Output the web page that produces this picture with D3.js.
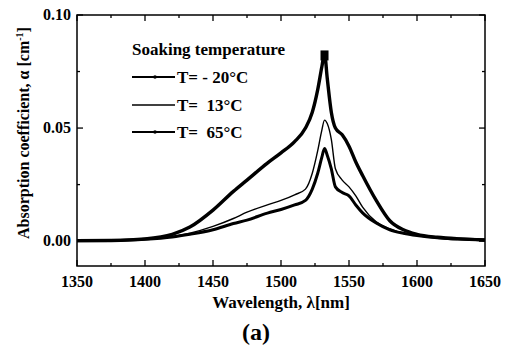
<!DOCTYPE html>
<html>
<head>
<meta charset="utf-8">
<script src="https://cdn.jsdelivr.net/npm/d3@7"></script>
<style>
body { margin: 0; background: #fff; }
</style>
</head>
<body>
<script>
// wavelength grid (nm) and absorption (cm^-1)
var wavelength = [1350, 1375, 1400, 1420, 1433, 1450, 1465, 1475, 1490, 1500, 1510, 1518, 1523, 1527, 1530, 1532, 1534, 1537, 1540, 1545, 1550, 1555, 1560, 1570, 1580, 1590, 1600, 1615, 1630, 1650];
var alphaM20 = [0.0002, 0.0003, 0.001, 0.003, 0.0062, 0.0137, 0.022, 0.027, 0.0345, 0.039, 0.044, 0.050, 0.057, 0.067, 0.077, 0.083, 0.072, 0.057, 0.050, 0.047, 0.042, 0.035, 0.029, 0.018, 0.009, 0.005, 0.003, 0.0017, 0.001, 0.0005];
var alpha13 = [0.0002, 0.0003, 0.0008, 0.002, 0.0035, 0.0065, 0.010, 0.0128, 0.016, 0.018, 0.0205, 0.023, 0.030, 0.040, 0.049, 0.0535, 0.052, 0.045, 0.032, 0.027, 0.024, 0.020, 0.015, 0.0085, 0.0055, 0.0035, 0.0025, 0.0015, 0.001, 0.0005];
var alpha65 = [0.0002, 0.0003, 0.0008, 0.0018, 0.003, 0.005, 0.0078, 0.0093, 0.0124, 0.014, 0.016, 0.018, 0.023, 0.030, 0.037, 0.041, 0.038, 0.032, 0.024, 0.0215, 0.020, 0.016, 0.0125, 0.008, 0.005, 0.0035, 0.0025, 0.0015, 0.001, 0.0005];
var seriesNames = ["T= - 20\u00B0C", "T=  13\u00B0C", "T=  65\u00B0C"];
var xTicks = [1350, 1400, 1450, 1500, 1550, 1600, 1650];
var yTicks = [0.00, 0.05, 0.10];

var W = 517, H = 349;
var m = {left: 77, top: 15, right: 485, bottom: 266};
var FONT = "Liberation Serif";

var svg = d3.select("body").append("svg").attr("width", W).attr("height", H);

var x = d3.scaleLinear().domain([1350, 1650]).range([m.left, m.right]);
var y = d3.scaleLinear().domain([-0.011, 0.1]).range([m.bottom, m.top]);

// frame
svg.append("rect").attr("x", m.left).attr("y", m.top)
	.attr("width", m.right - m.left).attr("height", m.bottom - m.top)
	.attr("fill", "none").attr("stroke", "#000").attr("stroke-width", 1.5);

// inward ticks, major and minor
var xMinor = d3.range(1375, 1650, 50);
var yMinor = [0.025, 0.075];
function tickX(vals, len){
	vals.forEach(function(v){
		svg.append("line").attr("x1", x(v)).attr("x2", x(v)).attr("y1", m.bottom).attr("y2", m.bottom - len).attr("stroke", "#000").attr("stroke-width", 1.3);
		svg.append("line").attr("x1", x(v)).attr("x2", x(v)).attr("y1", m.top).attr("y2", m.top + len).attr("stroke", "#000").attr("stroke-width", 1.3);
	});
}
function tickY(vals, len){
	vals.forEach(function(v){
		svg.append("line").attr("y1", y(v)).attr("y2", y(v)).attr("x1", m.left).attr("x2", m.left + len).attr("stroke", "#000").attr("stroke-width", 1.3);
		svg.append("line").attr("y1", y(v)).attr("y2", y(v)).attr("x1", m.right).attr("x2", m.right - len).attr("stroke", "#000").attr("stroke-width", 1.3);
	});
}
tickX(xTicks, 6); tickX(xMinor, 3);
tickY(yTicks, 6); tickY(yMinor, 3);

function txt(sel, size){
	return sel.attr("font-family", FONT).attr("font-weight", "bold").attr("font-size", size).attr("fill", "#000");
}

// tick labels
txt(svg.selectAll(".xl").data(xTicks).enter().append("text"), 16)
	.attr("x", function(d){ return x(d); }).attr("y", 287)
	.attr("text-anchor", "middle")
	.text(function(d){ return d; });
txt(svg.selectAll(".yl").data(yTicks).enter().append("text"), 16)
	.attr("x", 71).attr("y", function(d){ return y(d) + 5; })
	.attr("text-anchor", "end")
	.text(function(d){ return d.toFixed(2); });

// axis titles
txt(svg.append("text"), 17).attr("x", 281).attr("y", 308).attr("text-anchor", "middle")
	.text("Wavelength, \u03BB[nm]");
txt(svg.append("text"), 16).attr("transform", "translate(29,133) rotate(-90)").attr("text-anchor", "middle")
	.html("Absorption coefficient, \u03B1 [cm<tspan dy='-6' font-size='10'>-1</tspan><tspan dy='6'>]</tspan>");
txt(svg.append("text"), 24).attr("x", 256).attr("y", 340).attr("text-anchor", "middle")
	.text("(a)");

// curves
svg.append("clipPath").attr("id", "clip").append("rect")
	.attr("x", m.left).attr("y", m.top).attr("width", m.right - m.left).attr("height", m.bottom - m.top);
var line = d3.line().x(function(d){ return x(d[0]); }).y(function(d){ return y(d[1]); }).curve(d3.curveMonotoneX);
var series = [alphaM20, alpha13, alpha65];
var widths = [3.4, 1.4, 3.0];
var g = svg.append("g").attr("clip-path", "url(#clip)");
series.forEach(function(s, i){
	var pts = wavelength.map(function(w, j){ return [w, s[j]]; });
	g.append("path").datum(pts).attr("d", line)
		.attr("fill", "none").attr("stroke", "#000").attr("stroke-width", widths[i]).attr("stroke-linejoin", "round");
});

// peak marker
g.append("rect").attr("x", x(1532) - 4).attr("y", y(0.083) - 3).attr("width", 8).attr("height", 10).attr("fill", "#000");

// legend
txt(svg.append("text"), 17).attr("x", 132).attr("y", 55).text("Soaking temperature");
var legY = [77, 105, 132];
seriesNames.forEach(function(n, i){
	svg.append("line").attr("x1", 132).attr("x2", 175).attr("y1", legY[i]).attr("y2", legY[i])
		.attr("stroke", "#000").attr("stroke-width", i == 1 ? 1.4 : 1.8);
	if(i != 1) svg.append("circle").attr("cx", 155).attr("cy", legY[i]).attr("r", 1.8).attr("fill", "#000");
	txt(svg.append("text"), 17).attr("x", 177).attr("y", legY[i] + 6)
		.attr("xml:space", "preserve").style("white-space", "pre").text(n);
});
</script>
</body>
</html>
